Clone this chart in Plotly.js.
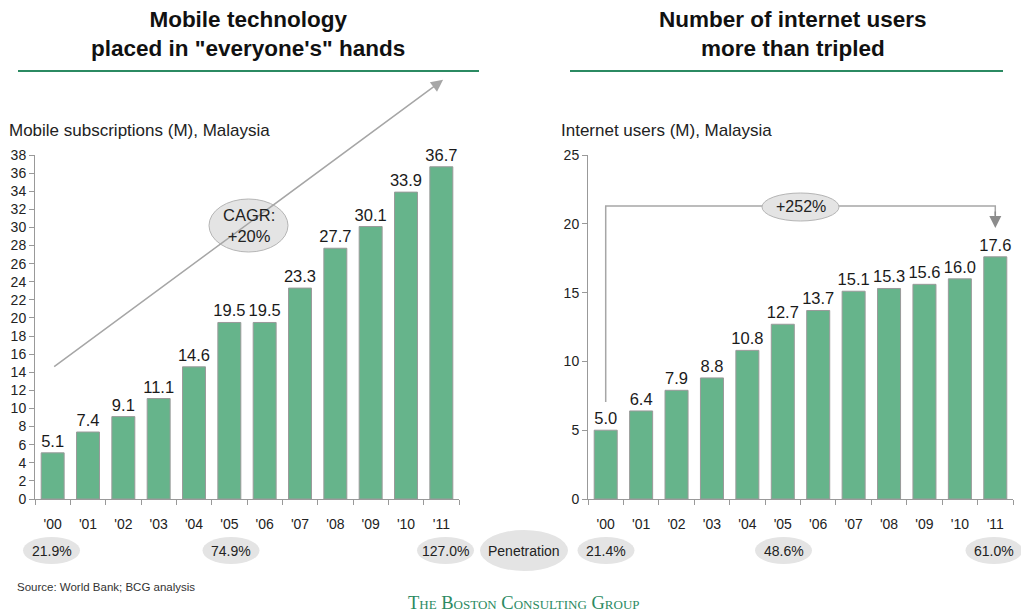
<!DOCTYPE html>
<html>
<head>
<meta charset="utf-8">
<script src="https://cdn.plot.ly/plotly-3.0.1.min.js"></script>
<style>
  html, body { margin: 0; padding: 0; background: #fff; }
  #chart { width: 1021px; height: 614px; }
</style>
</head>
<body>
<div id="chart"></div>
<script>
// Data
const years = ["'00", "'01", "'02", "'03", "'04", "'05", "'06", "'07", "'08", "'09", "'10", "'11"];
const mobileSubs = [5.1, 7.4, 9.1, 11.1, 14.6, 19.5, 19.5, 23.3, 27.7, 30.1, 33.9, 36.7];
const internetUsers = [5.0, 6.4, 7.9, 8.8, 10.8, 12.7, 13.7, 15.1, 15.3, 15.6, 16.0, 17.6];
const mobilePenetration = ['21.9%', '74.9%', '127.0%'];
const mobilePenX = [51.5, 231, 445.5];
const internetPenetration = ['21.4%', '48.6%', '61.0%'];
const internetPenX = [606, 783.5, 994];

const W = 1021, H = 614;
const px = x => x / W;
const py = y => 1 - y / H;

const barColor = '#66b48b';
const green = '#2b8a62';
const grey = '#e4e4e4';
const font = 'Arial, "Liberation Sans", sans-serif';

const barTrace = (x, y, xa, ya) => ({
    type: 'bar',
    x: x,
    y: y,
    xaxis: xa,
    yaxis: ya,
    marker: { color: barColor, line: { color: '#9a9a9a', width: 1 } },
    text: y.map(v => v.toFixed(1)),
    textposition: 'outside',
    constraintext: 'none',
    textfont: { size: 16.5, color: '#1a1a1a' },
    cliponaxis: false,
    hoverinfo: 'skip'
});

const xAxisBase = {
    type: 'category',
    showline: true,
    linecolor: '#999',
    linewidth: 1,
    ticks: 'outside',
    tickson: 'boundaries',
    ticklen: 5,
    tickcolor: '#999',
    ticklabelstandoff: 12,
    tickfont: { size: 14, color: '#222' },
    showgrid: false,
    zeroline: false,
    fixedrange: true
};
const yAxisBase = {
    showline: true,
    linecolor: '#999',
    linewidth: 1,
    ticks: 'outside',
    ticklen: 5,
    tickcolor: '#999',
    tickfont: { size: 14, color: '#222' },
    showgrid: false,
    zeroline: false,
    fixedrange: true
};

const shapes = [];
const annotations = [];

// Title rules
shapes.push({ type: 'line', xref: 'paper', yref: 'paper', x0: px(18), x1: px(479), y0: py(71), y1: py(71), line: { color: green, width: 2 } });
shapes.push({ type: 'line', xref: 'paper', yref: 'paper', x0: px(570), x1: px(1003), y0: py(71), y1: py(71), line: { color: green, width: 2 } });

annotations.push({ xref: 'paper', yref: 'paper', x: px(248), y: py(34), text: '<b>Mobile technology<br>placed in "everyone\'s" hands</b>', showarrow: false, font: { size: 22.5, color: '#111' }, xanchor: 'center', yanchor: 'middle' });
annotations.push({ xref: 'paper', yref: 'paper', x: px(793), y: py(34), text: '<b>Number of internet users<br>more than tripled</b>', showarrow: false, font: { size: 22.5, color: '#111' }, xanchor: 'center', yanchor: 'middle' });

annotations.push({ xref: 'paper', yref: 'paper', x: px(7), y: py(130), text: 'Mobile subscriptions (M), Malaysia', showarrow: false, font: { size: 17, color: '#222' }, xanchor: 'left', yanchor: 'middle' });
annotations.push({ xref: 'paper', yref: 'paper', x: px(559), y: py(130), text: 'Internet users (M), Malaysia', showarrow: false, font: { size: 17, color: '#222' }, xanchor: 'left', yanchor: 'middle' });

// CAGR arrow
annotations.push({ xref: 'x', yref: 'y', axref: 'x', ayref: 'y', x: 11.05, y: 46.3, ax: 0, ay: 14.5, text: '', showarrow: true, arrowhead: 2, arrowsize: 1.6, arrowwidth: 1.5, arrowcolor: '#a6a6a6' });
shapes.push({ type: 'circle', xref: 'paper', yref: 'paper', x0: px(209), x1: px(288), y0: py(199), y1: py(252), fillcolor: grey, line: { color: '#b5b5b5', width: 1 } });
annotations.push({ xref: 'paper', yref: 'paper', x: px(248.5), y: py(225.5), text: 'CAGR:<br>+20%', showarrow: false, font: { size: 16.5, color: '#222' }, xanchor: 'center', yanchor: 'middle' });

// +252% bracket
shapes.push({ type: 'path', xref: 'x2', yref: 'y2', path: 'M 0,7.05 L 0,21.3 L 11,21.3 L 11,20.6', line: { color: '#a6a6a6', width: 1.5 } });
annotations.push({ xref: 'x2', yref: 'y2', axref: 'x2', ayref: 'y2', x: 11, y: 19.7, ax: 11, ay: 21.0, text: '', showarrow: true, arrowhead: 2, arrowsize: 1.6, arrowwidth: 1.5, arrowcolor: '#8c8c8c' });
shapes.push({ type: 'circle', xref: 'paper', yref: 'paper', x0: px(762), x1: px(839), y0: py(193), y1: py(221), fillcolor: grey, line: { color: '#b5b5b5', width: 1 } });
annotations.push({ xref: 'paper', yref: 'paper', x: px(800.5), y: py(207), text: '+252%', showarrow: false, font: { size: 16, color: '#222' }, xanchor: 'center', yanchor: 'middle' });

// Penetration bubbles
const addBubble = (cx, label, w) => {
    shapes.push({ type: 'circle', xref: 'paper', yref: 'paper', x0: px(cx - w / 2), x1: px(cx + w / 2), y0: py(537), y1: py(564), fillcolor: grey, line: { width: 0 } });
    annotations.push({ xref: 'paper', yref: 'paper', x: px(cx), y: py(550.5), text: label, showarrow: false, font: { size: 14, color: '#222' }, xanchor: 'center', yanchor: 'middle' });
};
mobilePenetration.forEach((p, i) => addBubble(mobilePenX[i], p, 57));
internetPenetration.forEach((p, i) => addBubble(internetPenX[i], p, 57));
shapes.push({ type: 'circle', xref: 'paper', yref: 'paper', x0: px(480), x1: px(568), y0: py(530), y1: py(571), fillcolor: grey, line: { width: 0 } });
annotations.push({ xref: 'paper', yref: 'paper', x: px(524), y: py(550.5), text: 'Penetration', showarrow: false, font: { size: 14, color: '#222' }, xanchor: 'center', yanchor: 'middle' });

// Footer
annotations.push({ xref: 'paper', yref: 'paper', x: px(15), y: py(587), text: 'Source: World Bank; BCG analysis', showarrow: false, font: { size: 11.5, color: '#333' }, xanchor: 'left', yanchor: 'middle' });
annotations.push({ xref: 'paper', yref: 'paper', x: px(524), y: py(603), text: 'The Boston Consulting Group', showarrow: false, font: { family: '"Liberation Serif", "DejaVu Serif", serif', size: 18.5, color: green, variant: 'small-caps' }, xanchor: 'center', yanchor: 'middle' });

const layout = {
    width: W,
    height: H,
    margin: { l: 0, r: 0, t: 0, b: 0 },
    paper_bgcolor: '#fff',
    plot_bgcolor: '#fff',
    font: { family: font, color: '#222' },
    showlegend: false,
    bargap: 0.35,
    xaxis: Object.assign({}, xAxisBase, { domain: [px(35), px(459)], anchor: 'y' }),
    yaxis: Object.assign({}, yAxisBase, { domain: [py(499), py(155)], range: [0, 38], dtick: 2, anchor: 'x' }),
    xaxis2: Object.assign({}, xAxisBase, { domain: [px(588), px(1013)], anchor: 'y2' }),
    yaxis2: Object.assign({}, yAxisBase, { domain: [py(499), py(155)], range: [0, 25], dtick: 5, anchor: 'x2' }),
    shapes: shapes,
    annotations: annotations
};

Plotly.newPlot('chart', [
    barTrace(years, mobileSubs, 'x', 'y'),
    barTrace(years, internetUsers, 'x2', 'y2')
], layout, { displayModeBar: false, staticPlot: true });
</script>
</body>
</html>
